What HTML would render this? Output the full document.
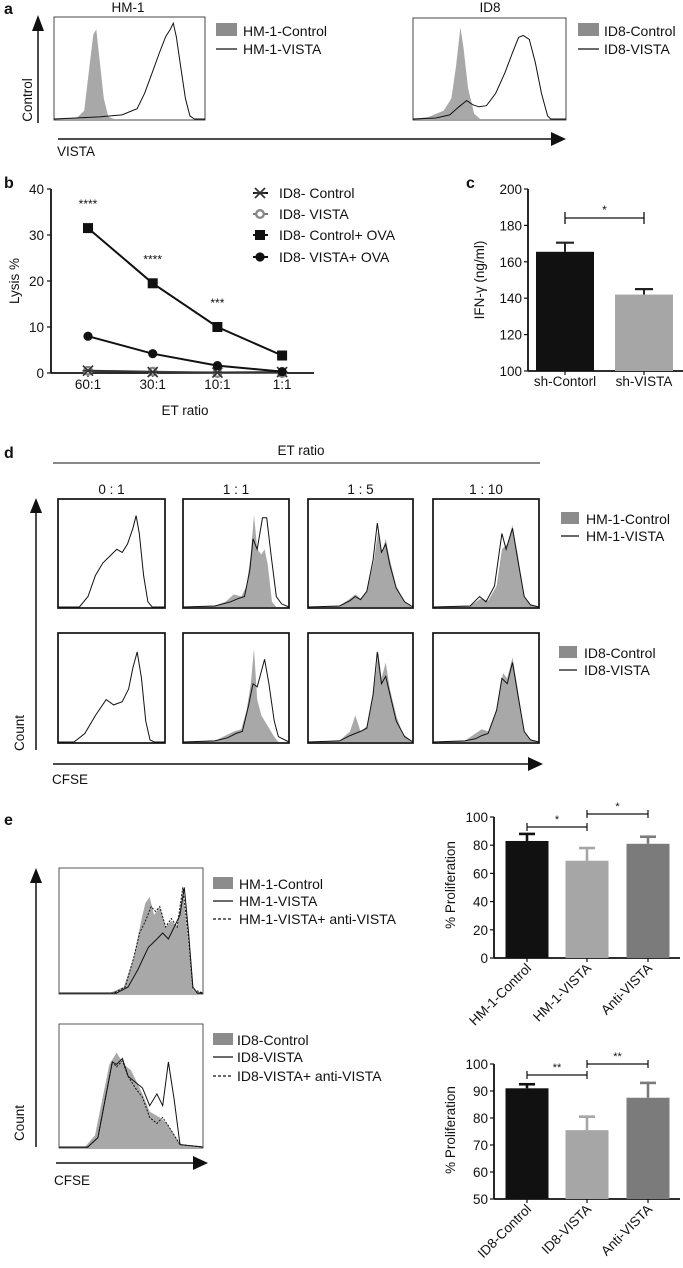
<!DOCTYPE html>
<html><head><meta charset="utf-8"><style>
html,body{margin:0;padding:0;background:#fff;}
svg{display:block;font-family:"Liberation Sans",Arial,sans-serif;}
text{fill:#111;}
</style></head><body>
<svg id="fig" width="683" height="1268" viewBox="0 0 683 1268" xmlns="http://www.w3.org/2000/svg">
<!-- Panel a -->
<text x="4" y="14" font-size="16" font-weight="bold">a</text>
<text x="128" y="12" font-size="13.5" text-anchor="middle">HM-1</text>
<text x="490" y="12" font-size="13.5" text-anchor="middle">ID8</text>
<rect x="54" y="17" width="151" height="103" fill="none" stroke="#333" stroke-width="0.9"/>
<rect x="413" y="18" width="153" height="102" fill="none" stroke="#333" stroke-width="0.9"/>
<g><line x1="38" y1="123" x2="38" y2="28" stroke="#111" stroke-width="1.5"/><path d="M32,31L38,15L44,31Z" fill="#111"/></g>
<text transform="translate(32,100) rotate(-90)" font-size="13.5" text-anchor="middle">Control</text>
<g><line x1="58" y1="139" x2="553" y2="139" stroke="#111" stroke-width="1.5"/><path d="M551,132L566,139L551,146Z" fill="#111"/></g>
<text x="57" y="156" font-size="13.5">VISTA</text>
<g>
<rect x="216" y="23" width="21" height="13" fill="#8c8c8c"/><text x="243" y="36" font-size="14">HM-1-Control</text>
<line x1="216" y1="49" x2="237" y2="49" stroke="#111" stroke-width="1.3"/><text x="243" y="54" font-size="14">HM-1-VISTA</text></g>
<g>
<rect x="578" y="23" width="21" height="13" fill="#8c8c8c"/><text x="604" y="36" font-size="14">ID8-Control</text>
<line x1="578" y1="49" x2="599" y2="49" stroke="#111" stroke-width="1.3"/><text x="604" y="54" font-size="14">ID8-VISTA</text></g>

<!-- Panel b -->
<text x="4" y="188" font-size="16" font-weight="bold">b</text>
<g id="bAxes"></g>
<text transform="translate(19,281) rotate(-90)" font-size="13.5" text-anchor="middle">Lysis %</text>
<text x="185" y="415" font-size="13.5" text-anchor="middle">ET ratio</text>

<!-- Panel c -->
<text x="466" y="188" font-size="16" font-weight="bold">c</text>
<g id="cAxes"></g>
<text transform="translate(484,280) rotate(-90)" font-size="13.5" text-anchor="middle">IFN-γ (ng/ml)</text>

<!-- Panel d -->
<text x="4" y="458" font-size="16" font-weight="bold">d</text>
<text x="301" y="455" font-size="13.5" text-anchor="middle">ET ratio</text>
<line x1="53" y1="463" x2="540" y2="463" stroke="#111" stroke-width="1"/>
<g id="dGrid"></g>
<g><line x1="36" y1="750" x2="36" y2="510" stroke="#111" stroke-width="1.5"/><path d="M30,513L36,498L42,513Z" fill="#111"/></g>
<text transform="translate(24,733) rotate(-90)" font-size="13.5" text-anchor="middle">Count</text>
<g><line x1="53" y1="764" x2="530" y2="764" stroke="#111" stroke-width="1.5"/><path d="M528,757L543,764L528,771Z" fill="#111"/></g>
<text x="52" y="784" font-size="13.5">CFSE</text>
<g>
<rect x="561" y="512" width="18" height="12" fill="#8c8c8c"/><text x="586" y="524" font-size="14">HM-1-Control</text>
<line x1="561" y1="536" x2="579" y2="536" stroke="#111" stroke-width="1.3"/><text x="586" y="541" font-size="14">HM-1-VISTA</text></g>
<g>
<rect x="559" y="646" width="18" height="12" fill="#8c8c8c"/><text x="584" y="658" font-size="14">ID8-Control</text>
<line x1="559" y1="670" x2="577" y2="670" stroke="#111" stroke-width="1.3"/><text x="584" y="675" font-size="14">ID8-VISTA</text></g>

<!-- Panel e -->
<text x="4" y="825" font-size="16" font-weight="bold">e</text>
<g id="eHist"></g>
<g><line x1="36" y1="1147" x2="36" y2="880" stroke="#111" stroke-width="1.5"/><path d="M30,883L36,868L42,883Z" fill="#111"/></g>
<text transform="translate(24,1123) rotate(-90)" font-size="13.5" text-anchor="middle">Count</text>
<g><line x1="56" y1="1163" x2="195" y2="1163" stroke="#111" stroke-width="1.5"/><path d="M193,1156L208,1163L193,1170Z" fill="#111"/></g>
<text x="54" y="1185" font-size="13.5">CFSE</text>
<g>
<rect x="213" y="877" width="20" height="12" fill="#8c8c8c"/><text x="239" y="889" font-size="14">HM-1-Control</text>
<line x1="213" y1="901" x2="233" y2="901" stroke="#111" stroke-width="1.3"/><text x="239" y="906" font-size="14">HM-1-VISTA</text>
<line x1="213" y1="919" x2="233" y2="919" stroke="#111" stroke-width="1.3" stroke-dasharray="3,2"/><text x="239" y="924" font-size="14">HM-1-VISTA+ anti-VISTA</text></g>
<g>
<rect x="213" y="1033" width="20" height="12" fill="#8c8c8c"/><text x="237" y="1045" font-size="14">ID8-Control</text>
<line x1="213" y1="1057" x2="233" y2="1057" stroke="#111" stroke-width="1.3"/><text x="237" y="1062" font-size="14">ID8-VISTA</text>
<line x1="213" y1="1076" x2="233" y2="1076" stroke="#111" stroke-width="1.3" stroke-dasharray="3,2"/><text x="237" y="1081" font-size="14">ID8-VISTA+ anti-VISTA</text></g>
<g id="eBars"></g>
<text transform="translate(455,885) rotate(-90)" font-size="13.5" text-anchor="middle">% Proliferation</text>
<text transform="translate(455,1130) rotate(-90)" font-size="13.5" text-anchor="middle">% Proliferation</text>
</svg>
<script>
// ---------- data ----------
const lysisCategories = ["60:1","30:1","10:1","1:1"];
const lysisTicks = [0,10,20,30,40];
const lysisCtrl = [0.5,0.2,0.1,0.2];
const lysisVista = [0.5,0.3,0.0,0.0];
const lysisCtrlOva = [31.5,19.5,10,3.8];
const lysisVistaOva = [8,4.2,1.6,0.3];
const lysisStars = ["****","****","***",""];

const ifnCategories = ["sh-Contorl","sh-VISTA"];
const ifnValues = [165.5,142];
const ifnErrors = [5,3];
const ifnTicks = [100,120,140,160,180,200];

const prolifCatsHM1 = ["HM-1-Control","HM-1-VISTA","Anti-VISTA"];
const prolifHM1 = [83,69,81];
const prolifHM1Err = [5,9,5];
const prolifTicksHM1 = [0,20,40,60,80,100];
const prolifCatsID8 = ["ID8-Control","ID8-VISTA","Anti-VISTA"];
const prolifID8 = [91,75.5,87.5];
const prolifID8Err = [1.5,5,5.5];
const prolifTicksID8 = [50,60,70,80,90,100];

// histogram shapes: [relative x, relative height]
const histAHm1Ctrl = [[0,0],[0.15,0.01],[0.2,0.08],[0.23,0.45],[0.26,0.82],[0.28,0.87],[0.3,0.6],[0.33,0.2],[0.36,0.02],[0.4,0],[1,0]];
const histAHm1Vista = [[0,0],[0.3,0.02],[0.45,0.04],[0.55,0.1],[0.6,0.25],[0.65,0.45],[0.7,0.65],[0.74,0.8],[0.77,0.87],[0.79,0.93],[0.81,0.8],[0.84,0.5],[0.87,0.2],[0.9,0.03],[0.93,0],[1,0]];
const histAId8Ctrl = [[0,0],[0.1,0.02],[0.2,0.08],[0.25,0.2],[0.28,0.5],[0.31,0.9],[0.33,0.7],[0.36,0.3],[0.4,0.05],[0.44,0],[1,0]];
const histAId8Vista = [[0,0],[0.15,0.01],[0.24,0.04],[0.3,0.12],[0.35,0.18],[0.39,0.14],[0.43,0.12],[0.48,0.13],[0.54,0.25],[0.6,0.45],[0.65,0.65],[0.69,0.8],[0.72,0.82],[0.76,0.78],[0.8,0.55],[0.84,0.25],[0.88,0.03],[0.9,0],[1,0]];

const histD = [
 [null,[[0,0],[0.2,0],[0.28,0.1],[0.35,0.3],[0.42,0.42],[0.5,0.5],[0.55,0.55],[0.6,0.52],[0.65,0.6],[0.7,0.75],[0.73,0.87],[0.76,0.7],[0.8,0.3],[0.84,0.05],[0.88,0],[1,0]]],
 [[[0,0],[0.3,0.01],[0.4,0.05],[0.48,0.12],[0.55,0.1],[0.6,0.2],[0.64,0.5],[0.67,0.88],[0.7,0.55],[0.74,0.5],[0.77,0.55],[0.8,0.4],[0.84,0.05],[0.88,0],[1,0]],
  [[0,0],[0.3,0.01],[0.45,0.05],[0.52,0.08],[0.58,0.1],[0.63,0.35],[0.66,0.65],[0.7,0.55],[0.75,0.85],[0.79,0.85],[0.83,0.5],[0.88,0.1],[0.93,0.03],[1,0]]],
 [[[0,0],[0.3,0.01],[0.4,0.08],[0.45,0.12],[0.5,0.08],[0.56,0.15],[0.63,0.45],[0.67,0.75],[0.7,0.5],[0.74,0.65],[0.78,0.45],[0.84,0.2],[0.92,0.05],[1,0]],
  [[0,0],[0.3,0.01],[0.4,0.06],[0.45,0.1],[0.5,0.07],[0.56,0.15],[0.62,0.45],[0.66,0.8],[0.7,0.52],[0.74,0.6],[0.78,0.4],[0.84,0.18],[0.92,0.05],[1,0]]],
 [[[0,0],[0.35,0.01],[0.45,0.08],[0.52,0.06],[0.6,0.2],[0.65,0.55],[0.7,0.6],[0.75,0.78],[0.8,0.5],[0.86,0.1],[0.92,0.02],[1,0]],
  [[0,0],[0.35,0.01],[0.44,0.1],[0.5,0.05],[0.58,0.2],[0.65,0.7],[0.69,0.55],[0.75,0.75],[0.8,0.45],[0.86,0.1],[0.92,0.02],[1,0]]],
 [null,[[0,0],[0.15,0],[0.25,0.08],[0.35,0.25],[0.45,0.4],[0.52,0.35],[0.6,0.38],[0.66,0.5],[0.7,0.7],[0.74,0.85],[0.78,0.6],[0.82,0.2],[0.86,0.02],[0.9,0],[1,0]]],
 [[[0,0],[0.3,0.01],[0.4,0.06],[0.48,0.1],[0.55,0.12],[0.6,0.3],[0.64,0.55],[0.67,0.88],[0.7,0.4],[0.74,0.25],[0.8,0.15],[0.86,0.05],[0.9,0],[1,0]],
  [[0,0],[0.3,0.01],[0.42,0.04],[0.5,0.08],[0.56,0.1],[0.62,0.35],[0.66,0.55],[0.7,0.52],[0.77,0.78],[0.81,0.55],[0.86,0.2],[0.9,0.05],[1,0]]],
 [[[0,0],[0.3,0.01],[0.4,0.1],[0.45,0.25],[0.5,0.1],[0.56,0.15],[0.63,0.5],[0.67,0.85],[0.7,0.6],[0.74,0.75],[0.78,0.5],[0.84,0.25],[0.9,0.08],[1,0]],
  [[0,0],[0.3,0.01],[0.4,0.06],[0.5,0.1],[0.56,0.13],[0.62,0.45],[0.66,0.85],[0.7,0.55],[0.74,0.62],[0.78,0.45],[0.84,0.2],[0.92,0.05],[1,0]]],
 [[[0,0],[0.3,0.01],[0.4,0.08],[0.46,0.12],[0.52,0.1],[0.6,0.3],[0.66,0.65],[0.7,0.6],[0.75,0.8],[0.8,0.5],[0.86,0.1],[0.92,0.02],[1,0]],
  [[0,0],[0.3,0.01],[0.4,0.03],[0.46,0.06],[0.52,0.08],[0.6,0.3],[0.65,0.6],[0.7,0.55],[0.75,0.75],[0.8,0.45],[0.86,0.1],[0.92,0.02],[1,0]]]
];
const histEHm1Ctrl = [[0,0],[0.35,0],[0.45,0.05],[0.52,0.3],[0.57,0.6],[0.6,0.75],[0.63,0.8],[0.66,0.65],[0.7,0.72],[0.74,0.55],[0.78,0.6],[0.82,0.55],[0.86,0.85],[0.9,0.4],[0.93,0.02],[1,0]];
const histEHm1Vista = [[0,0],[0.4,0],[0.48,0.05],[0.55,0.2],[0.62,0.38],[0.68,0.45],[0.72,0.5],[0.76,0.45],[0.8,0.55],[0.84,0.65],[0.87,0.88],[0.9,0.5],[0.93,0.05],[0.96,0],[1,0]];
const histEHm1Anti = [[0,0],[0.38,0],[0.46,0.05],[0.52,0.3],[0.56,0.5],[0.6,0.6],[0.64,0.72],[0.67,0.68],[0.7,0.72],[0.74,0.55],[0.78,0.62],[0.82,0.55],[0.86,0.88],[0.9,0.45],[0.93,0.03],[1,0]];
const histEId8Ctrl = [[0,0],[0.18,0],[0.25,0.1],[0.3,0.4],[0.35,0.7],[0.4,0.8],[0.45,0.7],[0.5,0.65],[0.58,0.45],[0.63,0.3],[0.7,0.25],[0.75,0.2],[0.8,0.1],[0.85,0.02],[1,0]];
const histEId8Vista = [[0,0],[0.2,0],[0.27,0.08],[0.32,0.4],[0.37,0.72],[0.4,0.7],[0.44,0.75],[0.48,0.6],[0.53,0.55],[0.58,0.5],[0.63,0.35],[0.68,0.45],[0.72,0.35],[0.76,0.72],[0.8,0.4],[0.84,0.02],[1,0]];
const histEId8Anti = [[0,0],[0.2,0],[0.27,0.08],[0.32,0.4],[0.37,0.72],[0.4,0.68],[0.44,0.73],[0.48,0.6],[0.53,0.5],[0.58,0.42],[0.63,0.25],[0.68,0.2],[0.72,0.25],[0.76,0.18],[0.8,0.1],[0.84,0.02],[1,0]];

const NS = "http://www.w3.org/2000/svg";
function mk(tag, attrs, parent){const e=document.createElementNS(NS,tag);for(const k in attrs)e.setAttribute(k,attrs[k]);parent.appendChild(e);return e;}
function txt(s,attrs,parent){const e=mk("text",attrs,parent);e.textContent=s;return e;}
const fig=document.getElementById("fig");

function histPath(box, pts, closed){
  const sx=v=>box.x+v*box.w, sy=v=>box.y+box.h-1-v*box.h;
  let d=pts.map((p,i)=>(i?"L":"M")+sx(p[0]).toFixed(1)+","+sy(p[1]).toFixed(1)).join("");
  if(closed)d+="Z";
  return d;
}
function drawHist(parent, box, ctrl, lines, name){
  const g=mk("g",{},parent);
  
  
  if(ctrl){const p=mk("path",{d:histPath(box,ctrl,true),fill:"#a8a8a8",stroke:"none"},g);
    
    }
  lines.forEach(l=>{const p=mk("path",{d:histPath(box,l.pts,false),fill:"none",stroke:"#111","stroke-width":"1","stroke-dasharray":l.dash||"none"},g);
    
    });
}

// ---- panel a histograms
drawHist(fig,{x:54,y:17,w:151,h:103},histAHm1Ctrl,[{pts:histAHm1Vista}],"hm1-vista-histogram");
drawHist(fig,{x:413,y:18,w:153,h:102},histAId8Ctrl,[{pts:histAId8Vista}],"id8-vista-histogram");

// ---- panel b
(function(){
  const g=document.getElementById("bAxes");
  const x0=51,x1=314,yTop=189,yBot=373;
  const ys=v=>yBot-(v/40)*(yBot-yTop);
  const xs=i=>88+i*64.7;
  mk("line",{x1:x0,y1:yTop,x2:x0,y2:yBot,stroke:"#111","stroke-width":1.8},g);
  mk("line",{x1:x0,y1:yBot,x2:x1,y2:yBot,stroke:"#111","stroke-width":1.8},g);
  lysisTicks.forEach(t=>{mk("line",{x1:x0-4,y1:ys(t),x2:x0,y2:ys(t),stroke:"#111","stroke-width":1.2},g);
    const tl=txt(String(t),{x:x0-7,y:ys(t)+5,"font-size":13.5,"text-anchor":"end"},g);
    
    });
  lysisCategories.forEach((c,i)=>{mk("line",{x1:xs(i),y1:yBot,x2:xs(i),y2:yBot+4,stroke:"#111","stroke-width":1.2},g);
    const tl=txt(c,{x:xs(i),y:389,"font-size":13.5,"text-anchor":"middle"},g);
    
    
    if(lysisStars[i]){const s=txt(lysisStars[i],{x:xs(i),y:ys(lysisCtrlOva[i])-20,"font-size":12,"text-anchor":"middle"},g);
      
      }
  });
  function drawMarker(p,m,x,y){
    if(m==="sq")return mk("rect",{x:x-5,y:y-5,width:10,height:10,fill:"#111"},p);
    if(m==="dot")return mk("circle",{cx:x,cy:y,r:4.6,fill:"#111"},p);
    if(m==="ring")return mk("circle",{cx:x,cy:y,r:3.8,fill:"#fff",stroke:"#888","stroke-width":2.4},p);
    const gg=mk("g",{stroke:"#333","stroke-width":1.7},p);
    mk("line",{x1:x-5,y1:y-5,x2:x+5,y2:y+5},gg);mk("line",{x1:x-5,y1:y+5,x2:x+5,y2:y-5},gg);mk("line",{x1:x-5.5,y1:y,x2:x+5.5,y2:y},gg);
    return gg;
  }
  function series(vals,name,color,marker){
    const sg=mk("g",{},g);
    
    
    mk("polyline",{points:vals.map((v,i)=>xs(i)+","+ys(v)).join(" "),fill:"none",stroke:color,"stroke-width":2},sg);
    vals.forEach((v,i)=>{const m=drawMarker(sg,marker,xs(i),ys(v));
      
      });
  }
  series(lysisVista,"series-id8-vista","#777","ring");
  series(lysisCtrl,"series-id8-control","#333","x");
  series(lysisVistaOva,"series-id8-vista-ova","#111","dot");
  series(lysisCtrlOva,"series-id8-control-ova","#111","sq");
  const lg=mk("g",{},g);
  
  
  const labels=["ID8- Control","ID8- VISTA","ID8- Control+ OVA","ID8- VISTA+ OVA"];
  const marks=["x","ring","sq","dot"];
  [193,214,235,257].forEach((yy,i)=>{
    mk("line",{x1:253,y1:yy,x2:268,y2:yy,stroke:i==1?"#777":"#111","stroke-width":2},lg);
    drawMarker(lg,marks[i],260,yy);
    txt(labels[i],{x:279,y:yy+5,"font-size":14},lg);
  });
})();

// ---- panel c
(function(){
  const g=document.getElementById("cAxes");
  const x0=528,yTop=189,yBot=371;
  const ys=v=>yBot-((v-100)/100)*(yBot-yTop);
  const cx=[565,644],bw=58,cols=["#111","#a6a6a6"];
  mk("line",{x1:x0,y1:yTop,x2:x0,y2:yBot,stroke:"#111","stroke-width":1.8},g);
  mk("line",{x1:x0,y1:yBot,x2:683,y2:yBot,stroke:"#111","stroke-width":1.8},g);
  ifnTicks.forEach(t=>{mk("line",{x1:x0-4,y1:ys(t),x2:x0,y2:ys(t),stroke:"#111","stroke-width":1.2},g);
    const tl=txt(String(t),{x:x0-6,y:ys(t)+5,"font-size":13.5,"text-anchor":"end"},g);
    
    });
  ifnValues.forEach((v,i)=>{
    const e=ys(v+ifnErrors[i]);
    mk("line",{x1:cx[i],y1:ys(v),x2:cx[i],y2:e,stroke:"#222","stroke-width":2},g);
    mk("line",{x1:cx[i]-9,y1:e,x2:cx[i]+9,y2:e,stroke:"#222","stroke-width":2.2},g);
    const b=mk("rect",{x:cx[i]-bw/2,y:ys(v),width:bw,height:yBot-ys(v),fill:cols[i]},g);
    
    
    mk("line",{x1:cx[i],y1:yBot,x2:cx[i],y2:yBot+4,stroke:"#111","stroke-width":1.2},g);
    const tl=txt(ifnCategories[i],{x:cx[i],y:386,"font-size":13.5,"text-anchor":"middle"},g);
    
    
  });
  const br=mk("g",{stroke:"#111","stroke-width":1.3},g);
  
  
  mk("line",{x1:cx[0],y1:218,x2:cx[1],y2:218},br);
  mk("line",{x1:cx[0],y1:212,x2:cx[0],y2:224},br);mk("line",{x1:cx[1],y1:212,x2:cx[1],y2:224},br);
  txt("*",{x:(cx[0]+cx[1])/2,y:214,"font-size":12,"text-anchor":"middle"},g);
})();

// ---- panel d
(function(){
  const g=document.getElementById("dGrid");
  const cols=[[58,165],[183,289],[308,413],[433,539]];
  const rows=[[499,608],[633,743]];
  const heads=["0 : 1","1 : 1","1 : 5","1 : 10"];
  cols.forEach((c,ci)=>{const h=txt(heads[ci],{x:(c[0]+c[1])/2,y:494,"font-size":13.5,"text-anchor":"middle"},g);
    
    });
  rows.forEach((r,ri)=>cols.forEach((c,ci)=>{
    const box={x:c[0],y:r[0]+4,w:c[1]-c[0],h:r[1]-r[0]-4};
    const h=histD[ri*4+ci];
    drawHist(g,box,h[0],[{pts:h[1]}],"cfse-histogram-r"+(ri+1)+"-c"+(ci+1));
    const rb=mk("rect",{x:c[0],y:r[0],width:c[1]-c[0],height:r[1]-r[0],fill:"none",stroke:"#111","stroke-width":1.7},g);
    
    
  }));
})();

// ---- panel e histograms
(function(){
  const g=document.getElementById("eHist");
  const b1={x:59,y:868,w:144,h:126}, b2={x:59,y:1024,w:144,h:124};
  drawHist(g,{x:b1.x,y:b1.y+6,w:b1.w,h:b1.h-6},histEHm1Ctrl,[{pts:histEHm1Anti,dash:"2,1.5"},{pts:histEHm1Vista}],"hm1-cfse-histogram");
  drawHist(g,{x:b2.x,y:b2.y+6,w:b2.w,h:b2.h-6},histEId8Ctrl,[{pts:histEId8Anti,dash:"2,1.5"},{pts:histEId8Vista}],"id8-cfse-histogram");
  [b1,b2].forEach(b=>{const r=mk("rect",{x:b.x,y:b.y,width:b.w,height:b.h,fill:"none",stroke:"#444","stroke-width":0.9},g);
    
    });
})();

// ---- panel e bar charts
(function(){
  const g=document.getElementById("eBars");
  const cx=[527,587,648],bw=43,colors=["#111","#a6a6a6","#7b7b7b"];
  function chart(cats,vals,errs,ticks,yTop,yBot,lo,hi,brackets,name){
    const cg=mk("g",{},g);
    
    
    const x0=494;
    const ys=v=>yBot-((v-lo)/(hi-lo))*(yBot-yTop);
    mk("line",{x1:x0,y1:yTop,x2:x0,y2:yBot,stroke:"#111","stroke-width":1.8},cg);
    mk("line",{x1:x0,y1:yBot,x2:680,y2:yBot,stroke:"#111","stroke-width":1.8},cg);
    ticks.forEach(t=>{mk("line",{x1:x0-4,y1:ys(t),x2:x0,y2:ys(t),stroke:"#111","stroke-width":1.2},cg);
      const tl=txt(String(t),{x:x0-6,y:ys(t)+5,"font-size":13.5,"text-anchor":"end"},cg);
      
      });
    vals.forEach((v,i)=>{
      const e=ys(v+errs[i]);
      mk("line",{x1:cx[i],y1:ys(v),x2:cx[i],y2:e,stroke:colors[i],"stroke-width":2.6},cg);
      mk("line",{x1:cx[i]-8,y1:e,x2:cx[i]+8,y2:e,stroke:colors[i],"stroke-width":2.6},cg);
      const b=mk("rect",{x:cx[i]-bw/2,y:ys(v),width:bw,height:yBot-ys(v),fill:colors[i]},cg);
      
      
      mk("line",{x1:cx[i],y1:yBot,x2:cx[i],y2:yBot+4,stroke:"#111","stroke-width":1.2},cg);
      const tl=txt(cats[i],{x:0,y:0,"font-size":13.5,"text-anchor":"end",transform:"translate("+(cx[i]+5)+","+(yBot+11)+") rotate(-45)"},cg);
      
      
    });
    brackets.forEach(br=>{
      const bg=mk("g",{stroke:"#111","stroke-width":1.2},cg);
      
      
      mk("line",{x1:cx[br.a],y1:br.y,x2:cx[br.b],y2:br.y},bg);
      mk("line",{x1:cx[br.a],y1:br.y-4,x2:cx[br.a],y2:br.y+4},bg);
      mk("line",{x1:cx[br.b],y1:br.y-4,x2:cx[br.b],y2:br.y+4},bg);
      txt(br.s,{x:(cx[br.a]+cx[br.b])/2,y:br.y-4,"font-size":11,"text-anchor":"middle"},cg);
    });
  }
  chart(prolifCatsHM1,prolifHM1,prolifHM1Err,prolifTicksHM1,817,958,0,100,[{a:0,b:1,y:827,s:"*"},{a:1,b:2,y:814,s:"*"}],"proliferation-chart-hm1");
  chart(prolifCatsID8,prolifID8,prolifID8Err,prolifTicksID8,1064,1199,50,100,[{a:0,b:1,y:1075,s:"**"},{a:1,b:2,y:1064,s:"**"}],"proliferation-chart-id8");
})();
</script>
</body></html>
